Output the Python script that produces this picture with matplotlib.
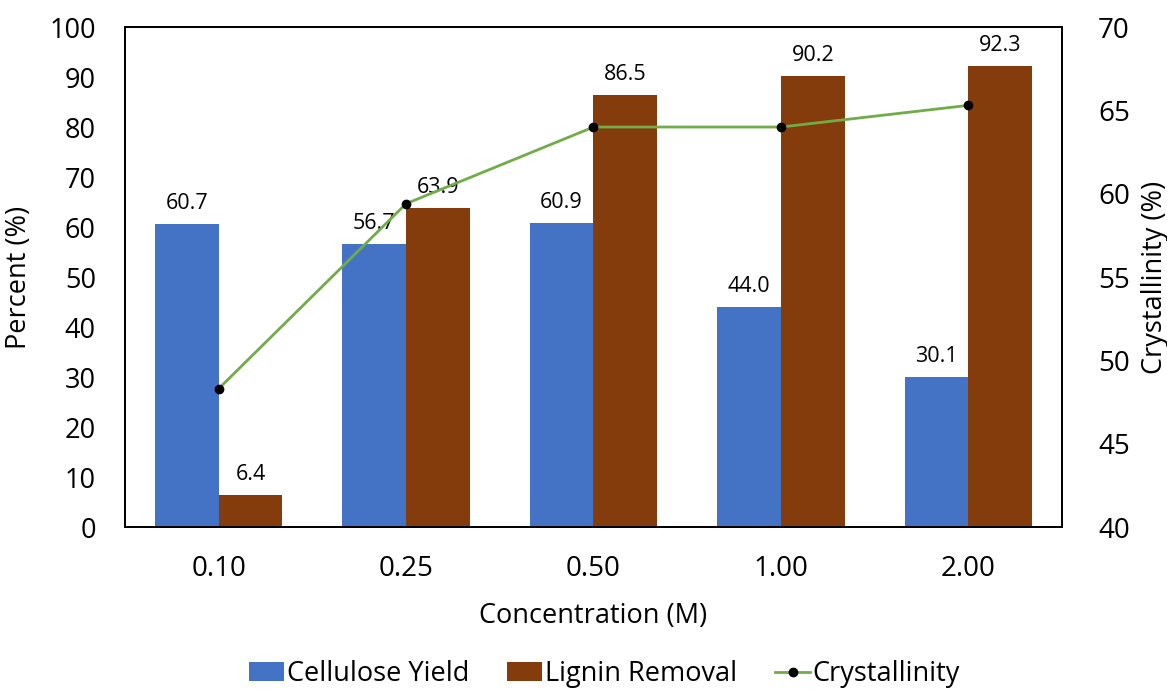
import numpy as np
import matplotlib
matplotlib.use("Agg")
import matplotlib.pyplot as plt

concentrations = ["0.10", "0.25", "0.50", "1.00", "2.00"]
cellulose_yield = [60.7, 56.7, 60.9, 44.0, 30.1]
lignin_removal = [6.4, 63.9, 86.5, 90.2, 92.3]
crystallinity = [48.3, 59.4, 64.0, 64.0, 65.3]

plt.rcParams['font.family'] = ['Open Sans', 'DejaVu Sans']

fig = plt.figure(figsize=(11.67, 6.93), dpi=100)
ax = fig.add_axes([0.1071, 0.2395, 0.8029, 0.7215])
ax2 = ax.twinx()

x = np.arange(len(concentrations))
width = 0.34

b1 = ax.bar(x - width / 2, cellulose_yield, width, color="#4472C4", label="Cellulose Yield")
b2 = ax.bar(x + width / 2, lignin_removal, width, color="#843C0C", label="Lignin Removal")

for bars, vals in ((b1, cellulose_yield), (b2, lignin_removal)):
    for bar, v in zip(bars, vals):
        ax.annotate(f"{v:.1f}", (bar.get_x() + bar.get_width() / 2, v),
                    xytext=(0, 7), textcoords="offset points",
                    ha="center", va="bottom", fontsize=15.5)

ln, = ax2.plot(x, crystallinity, color="#70AD47", lw=2, marker="o",
               markersize=6, markerfacecolor="black", markeredgecolor="black",
               label="Crystallinity")

ax.set_xlim(-0.5, len(concentrations) - 0.5)
ax.set_ylim(0, 100)
ax.set_yticks(range(0, 101, 10))
ax2.set_ylim(40, 70)
ax2.set_yticks(range(40, 71, 5))

ax.set_xticks(x)
ax.set_xticklabels(concentrations)
ax.tick_params(axis="x", length=0, labelsize=20, pad=20)
ax.tick_params(axis="y", length=0, labelsize=19.5, pad=21)
ax2.tick_params(axis="y", length=0, labelsize=20, pad=26)

ax.set_xlabel("Concentration (M)", fontsize=19.5, labelpad=14)
ax.set_ylabel("Percent (%)", fontsize=19.5, labelpad=12)
ax2.set_ylabel("Crystallinity (%)", fontsize=19.5, labelpad=8)

for a in (ax, ax2):
    for s in a.spines.values():
        s.set_linewidth(1.3)
        s.set_color("black")

# legend sits low under the x label
fig.legend(handles=[b1, b2, ln], loc="center", bbox_to_anchor=(0.518, 0.027),
           ncol=3, frameon=False, fontsize=19.5, handlelength=1.3,
           handletextpad=0.1, columnspacing=1.4)

fig.savefig("out.png", dpi=100)
